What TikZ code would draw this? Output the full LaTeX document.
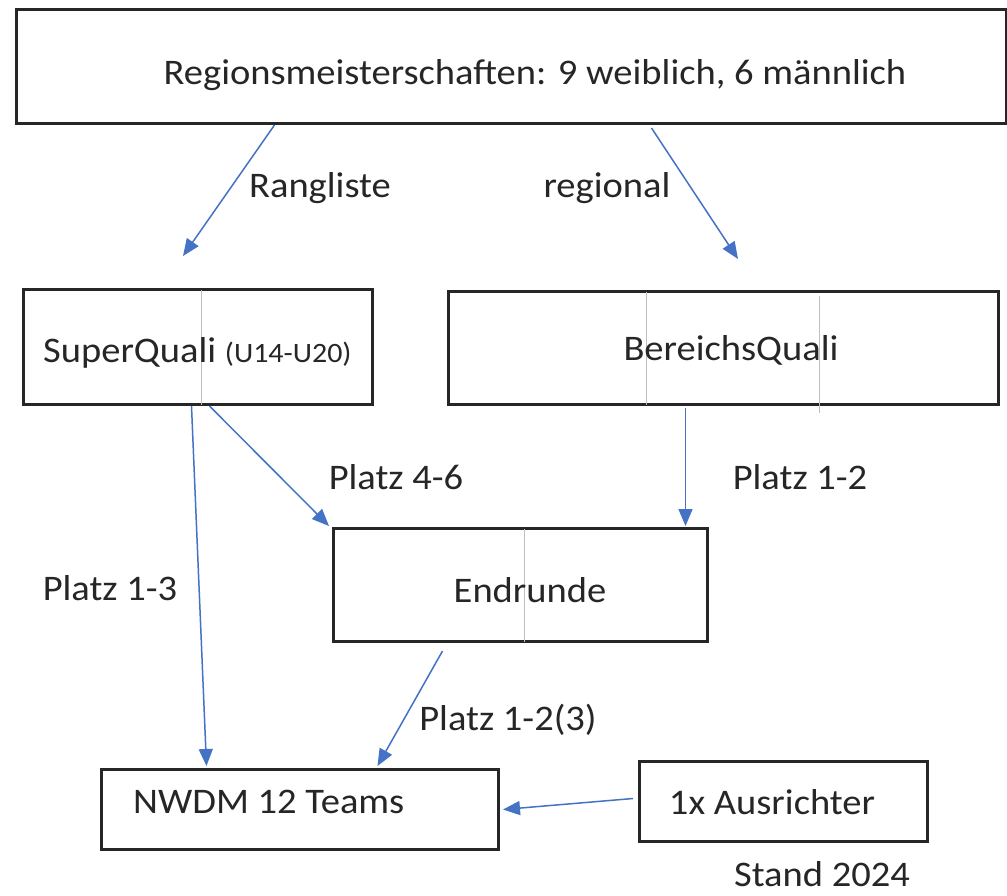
\documentclass[tikz,border=0pt]{standalone}
\usepackage{fontspec}
\setmainfont{Carlito}[FakeStretch=1.07]
\usetikzlibrary{arrows.meta,calc}
\definecolor{arrowblue}{HTML}{4472C4}
\definecolor{boxline}{HTML}{262626}
\definecolor{gridgray}{HTML}{BFBFBF}
\begin{document}
\begin{tikzpicture}[x=1pt,y=-1pt,
  box/.style={draw=boxline,line width=3pt,inner sep=0pt,anchor=north west},
  flow/.style={draw=arrowblue,line width=1.5pt,-{Triangle[length=17pt,width=14pt]}},
  lbl/.style={font=\fontsize{36}{42}\selectfont,text=boxline,inner sep=0pt},
  gridline/.style={draw=gridgray,line width=1.5pt}]
\useasboundingbox[fill=white] (0,0) rectangle (1007,895);

% boxes
\node[box,minimum width=990pt,minimum height=114pt] (top) at (15,8) {};
\node[box,minimum width=349pt,minimum height=115pt] (sq) at (22,288) {};
\node[box,minimum width=550pt,minimum height=113pt] (bq) at (447,290) {};
\node[box,minimum width=374pt,minimum height=113pt] (er) at (332,527) {};
\node[box,minimum width=397pt,minimum height=80pt] (nw) at (100,768) {};
\node[box,minimum width=288pt,minimum height=80pt] (au) at (638,760) {};

% thin gray lines inside boxes
\draw[gridline] ([xshift=3.5pt,yshift=-1.5pt]sq.north) -- ([xshift=3.5pt,yshift=1.5pt]sq.south);
\draw[gridline] ([xshift=-77pt,yshift=-1.5pt]bq.north) -- ([xshift=-77pt,yshift=1.5pt]bq.south);
\draw[gridline] ([xshift=96pt,yshift=-6pt]bq.north) -- ([xshift=96pt,yshift=-7pt]bq.south);
\draw[gridline] ([xshift=4pt,yshift=-1.5pt]er.north) -- ([xshift=4pt,yshift=1.5pt]er.south);

% texts
\node[lbl] (tTop) at (535,75) {Regionsmeisterschaften: 9 weiblich, 6 männlich};
\node[lbl,anchor=base west] (tSq) at (43,362) {SuperQuali {\fontsize{28}{32}\selectfont (U14-U20)}};
\node[lbl] (tBq) at (731,350) {BereichsQuali};
\node[lbl] (tEr) at (530,590) {Endrunde};
\node[lbl,anchor=west] (tNw) at (133,802) {NWDM 12 Teams};
\node[lbl] (tAu) at (772,802) {1x Ausrichter};
\node[lbl,anchor=base] (tStand) at (822,886) {Stand 2024};

% edge labels
\node[lbl] (lRang) at (320,188) {Rangliste};
\node[lbl] (lReg) at (607,188) {regional};
\node[lbl] (l46) at (396,477) {Platz 4-6};
\node[lbl] (l12) at (800,477) {Platz 1-2};
\node[lbl] (l13) at (110,588) {Platz 1-3};
\node[lbl] (l123) at (508,720) {Platz 1-2(3)};

% free arrow ends
\coordinate (endRang) at (183,256);
\coordinate (endReg) at (738,259);

% connectors
\draw[flow] ([xshift=-237pt]top.south) -- (endRang);
\draw[flow] ([xshift=140pt,yshift=-3pt]top.south) -- (endReg);
\draw[flow] ([xshift=-6.5pt]sq.south) -- ([xshift=-93.5pt,yshift=2pt]nw.north);
\draw[flow] ([xshift=11.5pt]sq.south) -- ([xshift=-3pt,yshift=1pt]er.north west);
\draw[flow] ([xshift=-38pt,yshift=-2pt]bq.south) -- ([xshift=165pt,yshift=1pt]er.north);
\draw[flow] ([xshift=-78pt,yshift=-8pt]er.south) -- ([xshift=77.5pt,yshift=2pt]nw.north);
\draw[flow] ([xshift=-5pt,yshift=3pt]au.west) -- ([xshift=3pt]nw.east);
\end{tikzpicture}
\end{document}
